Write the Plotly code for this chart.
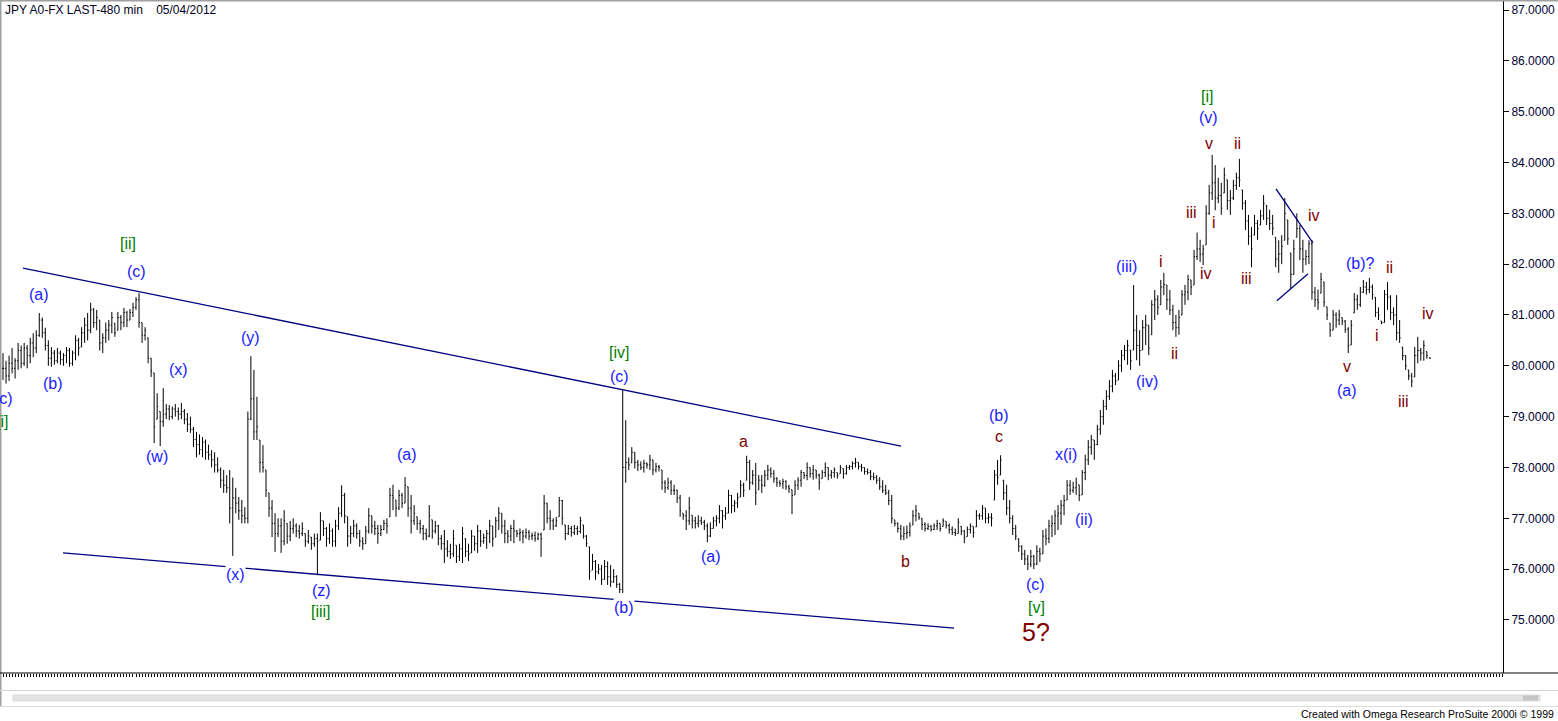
import plotly.graph_objects as go

# ---------------- data (480-minute JPY bars) ----------------
high = [
    80.25, 80.10, 80.20, 80.35, 80.15, 80.45, 80.40, 80.45, 80.41, 80.55,
    80.64, 80.70, 81.04, 80.95, 80.75, 80.50, 80.37, 80.31, 80.35, 80.30,
    80.25, 80.37, 80.35, 80.30, 80.60, 80.55, 80.76, 80.95, 81.04, 81.24,
    81.14, 81.10, 80.90, 80.64, 80.85, 80.90, 81.06, 80.84, 81.06, 81.00,
    81.14, 81.08, 81.12, 81.24, 81.35, 81.43, 80.85, 80.76, 80.55, 80.15,
    79.86, 79.46, 79.10, 79.56, 79.25, 79.23, 79.20, 79.25, 79.18, 79.27,
    79.15, 79.07, 79.00, 78.80, 78.70, 78.65, 78.60, 78.55, 78.45, 78.34,
    78.30, 78.20, 78.00, 77.95, 77.85, 77.95, 77.80, 77.60, 77.42, 77.36,
    77.22, 79.10, 80.19, 79.92, 79.39, 78.54, 78.44, 77.95, 77.50, 77.36,
    77.10, 77.00, 77.00, 77.16, 76.90, 76.95, 77.00, 76.90, 76.87, 76.92,
    76.70, 76.77, 76.63, 76.70, 76.70, 77.12, 76.95, 76.83, 76.90, 76.80,
    76.97, 77.22, 77.65, 77.50, 77.03, 76.85, 76.97, 76.90, 76.77, 76.63,
    76.85, 77.20, 77.05, 76.95, 76.87, 76.87, 76.97, 77.00, 77.60, 77.66,
    77.36, 77.56, 77.50, 77.81, 77.62, 77.46, 77.26, 77.03, 76.97, 76.87,
    76.80, 77.26, 76.97, 76.95, 76.87, 76.67, 76.77, 76.57, 76.50, 76.77,
    76.47, 76.50, 76.83, 76.60, 76.50, 76.77, 76.65, 76.87, 76.77, 76.70,
    76.77, 76.97, 76.85, 77.03, 77.22, 77.10, 76.97, 76.77, 76.87, 76.97,
    76.77, 76.80, 76.77, 76.80, 76.77, 76.72, 76.74, 76.72, 76.72, 77.46,
    77.30, 77.16, 77.00, 77.03, 77.42, 77.36, 76.87, 76.87, 76.85, 76.87,
    76.85, 77.03, 76.87, 76.67, 76.44, 76.30, 76.18, 76.10, 76.08, 76.18,
    76.15, 76.08, 76.00, 75.88, 75.73, 79.52, 78.93, 78.20, 78.40, 78.30,
    78.15, 78.12, 78.15, 78.10, 78.25, 78.15, 78.09, 78.05, 77.95, 77.75,
    77.80, 77.75, 77.66, 77.56, 77.46, 77.10, 77.16, 77.42, 77.06, 77.03,
    77.06, 77.03, 76.97, 76.90, 76.92, 77.03, 77.06, 77.26, 77.16, 77.22,
    77.56, 77.46, 77.36, 77.50, 77.75, 77.70, 78.23, 78.15, 77.95, 78.09,
    77.85, 77.85, 77.95, 78.05, 78.00, 77.95, 77.81, 77.75, 77.78, 77.75,
    77.66, 77.56, 77.75, 77.81, 77.95, 77.90, 78.10, 78.00, 78.05, 77.95,
    77.88, 77.95, 78.10, 78.00, 77.95, 78.00, 77.90, 78.05, 77.98, 78.05,
    78.05, 78.12, 78.19, 78.10, 78.07, 78.00, 77.98, 77.95, 77.90, 77.85,
    77.81, 77.75, 77.66, 77.56, 77.46, 76.97, 76.92, 76.87, 76.84, 76.86,
    76.92, 77.16, 77.26, 77.10, 77.00, 76.92, 76.90, 76.87, 76.90, 76.97,
    76.90, 77.00, 76.94, 76.90, 76.84, 76.80, 77.00, 76.84, 76.77, 76.84,
    76.90, 76.84, 77.16, 77.10, 77.26, 77.20, 77.10, 77.10, 77.95, 78.15,
    78.24, 77.75, 77.66, 77.36, 77.06, 76.87, 76.60, 76.47, 76.38, 76.28,
    76.38, 76.28, 76.47, 76.42, 76.77, 76.80, 76.97, 77.06, 77.16, 77.26,
    77.36, 77.46, 77.75, 77.75, 77.72, 77.80, 77.66, 77.95, 78.25, 78.54,
    78.64, 78.54, 78.84, 79.13, 79.33, 79.52, 79.72, 79.92, 79.86, 80.11,
    80.31, 80.41, 80.51, 80.31, 81.59, 81.00, 80.70, 80.90, 81.00, 80.80,
    81.29, 81.49, 81.39, 81.69, 81.83, 81.59, 81.49, 81.20, 81.00, 81.10,
    81.49, 81.59, 81.79, 81.69, 82.28, 82.62, 82.48, 82.38, 83.16, 83.56,
    84.15, 83.95, 83.70, 83.60, 83.90, 83.66, 83.46, 83.66, 83.80, 84.07,
    83.46, 83.26, 82.97, 82.73, 82.97, 82.87, 83.07, 83.36, 83.16, 83.07,
    82.97, 82.53, 82.47, 82.57, 83.30, 82.87, 82.22, 82.48, 83.00, 82.77,
    82.48, 82.28, 82.47, 82.47, 81.55, 81.50, 81.83, 81.65,
    81.16, 80.84, 81.10, 81.05, 81.10, 80.95, 80.90, 80.76, 80.90,
    81.43, 81.40, 81.55, 81.69, 81.65, 81.73, 81.60, 81.35, 81.15,
    80.88, 81.49, 81.65, 81.39, 81.15, 81.39, 80.90, 80.37, 80.21, 79.92,
    79.86, 80.37, 80.57, 80.35, 80.50, 80.28, 80.16,
]
low = [
    79.72, 79.65, 79.70, 79.85, 79.75, 79.92, 79.95, 80.00, 79.95, 80.05,
    80.17, 80.25, 80.57, 80.55, 80.30, 80.00, 79.98, 80.02, 80.05, 80.02,
    80.00, 80.05, 79.98, 80.00, 80.11, 80.20, 80.37, 80.45, 80.50, 80.64,
    80.75, 80.70, 80.30, 80.25, 80.45, 80.50, 80.64, 80.57, 80.70, 80.70,
    80.76, 80.76, 80.90, 80.96, 81.10, 80.75, 80.45, 80.50, 80.05, 79.78,
    78.48, 78.95, 78.42, 78.80, 78.95, 78.93, 78.95, 79.00, 78.93, 78.95,
    78.85, 78.70, 78.68, 78.40, 78.20, 78.25, 78.20, 78.15, 78.15, 78.00,
    77.90, 77.90, 77.60, 77.50, 77.50, 76.90, 76.26, 77.10, 76.97, 76.90,
    76.90, 76.90, 78.93, 78.54, 78.54, 77.90, 77.90, 77.42, 77.03, 76.63,
    76.34, 76.63, 76.32, 76.47, 76.50, 76.55, 76.70, 76.63, 76.60, 76.65,
    76.44, 76.50, 76.38, 76.44, 75.88, 76.57, 76.65, 76.44, 76.50, 76.44,
    76.44, 76.77, 77.03, 76.90, 76.44, 76.50, 76.63, 76.60, 76.44, 76.38,
    76.50, 76.70, 76.70, 76.67, 76.50, 76.65, 76.77, 76.70, 77.03, 77.16,
    77.03, 77.16, 77.20, 77.30, 77.03, 76.70, 76.87, 76.77, 76.70, 76.57,
    76.57, 76.63, 76.60, 76.70, 76.47, 76.38, 76.12, 76.24, 76.20, 76.24,
    76.12, 76.16, 76.12, 76.24, 76.16, 76.32, 76.36, 76.32, 76.44, 76.50,
    76.40, 76.51, 76.44, 76.63, 76.77, 76.70, 76.51, 76.51, 76.55, 76.51,
    76.63, 76.55, 76.51, 76.60, 76.57, 76.57, 76.54, 76.57, 76.24, 76.77,
    76.90, 76.77, 76.77, 76.83, 77.03, 76.87, 76.57, 76.67, 76.64, 76.67,
    76.67, 76.70, 76.60, 76.44, 75.79, 75.98, 75.79, 75.90, 75.69, 75.79,
    75.69, 75.65, 75.73, 75.63, 75.53, 75.53, 77.70, 77.95, 78.09, 77.98,
    77.93, 77.95, 77.90, 77.98, 77.95, 77.85, 77.90, 77.92, 77.56, 77.50,
    77.56, 77.46, 77.46, 77.30, 77.03, 76.97, 76.77, 76.87, 76.80, 76.80,
    76.82, 76.87, 76.77, 76.53, 76.63, 76.80, 76.84, 76.90, 76.80, 76.97,
    77.10, 77.10, 77.12, 77.20, 77.42, 77.42, 77.75, 77.56, 77.66, 77.26,
    77.56, 77.50, 77.62, 77.75, 77.80, 77.70, 77.62, 77.62, 77.58, 77.56,
    77.50, 77.08, 77.46, 77.56, 77.62, 77.78, 77.75, 77.80, 77.76, 77.78,
    77.56, 77.78, 77.81, 77.75, 77.78, 77.80, 77.78, 77.88, 77.78, 77.86,
    77.95, 77.96, 78.00, 77.96, 77.92, 77.86, 77.86, 77.75, 77.75, 77.68,
    77.56, 77.50, 77.46, 77.26, 76.90, 76.84, 76.72, 76.57, 76.57, 76.60,
    76.64, 76.87, 76.94, 76.97, 76.77, 76.74, 76.77, 76.74, 76.77, 76.77,
    76.74, 76.84, 76.80, 76.70, 76.67, 76.65, 76.70, 76.67, 76.51, 76.64,
    76.70, 76.62, 76.83, 76.97, 76.97, 76.90, 76.90, 76.84, 77.36, 77.66,
    77.85, 77.36, 77.06, 76.90, 76.67, 76.57, 76.34, 76.18, 76.08, 75.98,
    76.04, 76.00, 76.08, 76.14, 76.30, 76.47, 76.51, 76.63, 76.67, 76.77,
    76.87, 77.06, 77.36, 77.46, 77.50, 77.46, 77.34, 77.46, 77.75, 78.05,
    78.25, 78.15, 78.44, 78.64, 78.84, 79.13, 79.33, 79.48, 79.62, 79.72,
    79.88, 80.11, 80.02, 79.92, 80.31, 80.11, 80.00, 80.31, 80.41, 80.21,
    80.61, 80.90, 81.00, 81.20, 81.39, 81.10, 81.00, 80.70, 80.57, 80.61,
    81.00, 81.20, 81.29, 81.39, 81.59, 82.08, 82.04, 81.98, 82.38, 82.97,
    83.26, 83.06, 83.20, 82.97, 83.40, 83.07, 82.97, 83.26, 83.46, 83.52,
    83.07, 82.67, 82.38, 81.94, 82.57, 82.48, 82.77, 82.87, 82.77, 82.67,
    82.57, 81.94, 81.83, 82.00, 82.47, 82.38, 81.51, 81.79, 82.53, 82.08,
    81.83, 81.98, 82.00, 81.30, 81.16, 81.10, 81.43, 81.16,
    80.90, 80.57, 80.70, 80.75, 80.80, 80.80, 80.65, 80.25, 80.41,
    81.04, 81.10, 81.16, 81.43, 81.40, 81.43, 81.30, 80.96, 80.90,
    80.82, 80.85, 81.10, 80.90, 80.80, 80.50, 80.45, 80.11, 79.92, 79.72,
    79.58, 79.78, 80.05, 80.10, 80.10, 80.14, 80.14,
]
close = [
    79.95, 79.80, 80.05, 79.95, 80.10, 80.30, 80.05, 80.35, 80.20, 80.45,
    80.35, 80.60, 80.90, 80.65, 80.40, 80.15, 80.25, 80.10, 80.25, 80.12,
    80.20, 80.30, 80.05, 80.25, 80.50, 80.35, 80.65, 80.80, 80.70, 81.10,
    80.85, 80.95, 80.45, 80.55, 80.70, 80.80, 80.95, 80.65, 80.95, 80.85,
    81.05, 80.90, 81.05, 81.15, 81.30, 80.85, 80.60, 80.70, 80.15, 79.90,
    78.80, 79.20, 78.90, 79.05, 79.15, 79.00, 79.15, 79.10, 79.05, 79.10,
    78.95, 78.85, 78.75, 78.55, 78.45, 78.35, 78.50, 78.30, 78.25, 78.15,
    78.05, 77.95, 77.75, 77.65, 77.60, 77.20, 77.40, 77.30, 77.15, 77.05,
    77.00, 78.95, 79.35, 78.70, 78.80, 78.10, 78.00, 77.55, 77.20, 76.90,
    76.70, 76.85, 76.55, 76.95, 76.65, 76.80, 76.85, 76.75, 76.70, 76.80,
    76.55, 76.65, 76.50, 76.60, 76.55, 76.95, 76.80, 76.60, 76.75, 76.55,
    76.85, 77.10, 77.45, 77.05, 76.65, 76.70, 76.85, 76.70, 76.55, 76.50,
    76.75, 77.05, 76.85, 76.80, 76.70, 76.78, 76.90, 76.85, 77.45, 77.40,
    77.20, 77.45, 77.30, 77.65, 77.20, 76.95, 77.10, 76.90, 76.80, 76.70,
    76.65, 77.05, 76.75, 76.85, 76.60, 76.50, 76.40, 76.35, 76.30, 76.60,
    76.25, 76.40, 76.70, 76.35, 76.30, 76.65, 76.50, 76.75, 76.55, 76.62,
    76.70, 76.85, 76.60, 76.95, 77.10, 76.85, 76.70, 76.65, 76.80, 76.75,
    76.70, 76.72, 76.65, 76.72, 76.65, 76.66, 76.60, 76.68, 76.60, 77.30,
    77.00, 76.95, 76.85, 76.95, 77.35, 77.00, 76.70, 76.80, 76.72, 76.80,
    76.74, 76.95, 76.65, 76.50, 75.95, 76.15, 75.95, 76.00, 75.80, 76.05,
    75.85, 75.75, 75.85, 75.70, 75.60, 78.00, 78.10, 78.05, 78.30, 78.10,
    78.05, 78.00, 78.08, 78.05, 78.15, 77.95, 78.02, 78.00, 77.70, 77.60,
    77.70, 77.55, 77.55, 77.40, 77.15, 77.05, 76.95, 77.20, 76.95, 76.90,
    76.95, 76.92, 76.85, 76.65, 76.80, 76.95, 77.00, 77.15, 77.05, 77.10,
    77.45, 77.25, 77.30, 77.40, 77.65, 77.55, 78.10, 77.70, 77.85, 77.50,
    77.75, 77.65, 77.85, 77.95, 77.88, 77.78, 77.70, 77.68, 77.72, 77.62,
    77.58, 77.45, 77.65, 77.75, 77.90, 77.84, 78.00, 77.88, 77.95, 77.85,
    77.70, 77.90, 78.00, 77.85, 77.90, 77.95, 77.85, 78.00, 77.88, 78.00,
    78.02, 78.08, 78.10, 78.02, 78.00, 77.92, 77.90, 77.82, 77.80, 77.75,
    77.62, 77.55, 77.50, 77.35, 77.00, 76.90, 76.80, 76.65, 76.70, 76.72,
    76.85, 77.05, 77.15, 77.02, 76.88, 76.80, 76.84, 76.78, 76.85, 76.90,
    76.80, 76.95, 76.86, 76.78, 76.72, 76.70, 76.92, 76.75, 76.62, 76.78,
    76.85, 76.72, 77.05, 77.05, 77.20, 77.00, 77.02, 77.00, 77.85, 77.80,
    78.15, 77.50, 77.20, 77.00, 76.80, 76.65, 76.45, 76.30, 76.20, 76.10,
    76.25, 76.10, 76.35, 76.30, 76.65, 76.60, 76.85, 76.90, 77.05, 77.10,
    77.25, 77.35, 77.65, 77.55, 77.60, 77.70, 77.45, 77.90, 78.15, 78.40,
    78.55, 78.45, 78.75, 79.00, 79.20, 79.40, 79.60, 79.80, 79.70, 80.00,
    80.20, 80.30, 80.40, 80.10, 80.70, 80.40, 80.30, 80.75, 80.80, 80.35,
    81.20, 81.30, 81.15, 81.55, 81.60, 81.30, 81.10, 80.85, 80.75, 80.95,
    81.40, 81.45, 81.70, 81.55, 82.15, 82.30, 82.20, 82.30, 83.00, 83.40,
    83.60, 83.30, 83.35, 83.10, 83.75, 83.25, 83.30, 83.55, 83.70, 83.65,
    83.20, 82.85, 82.55, 82.30, 82.80, 82.70, 82.95, 83.20, 82.90, 82.80,
    82.70, 82.10, 82.20, 82.35, 83.00, 82.50, 81.80, 82.30, 82.70, 82.30,
    82.10, 82.15, 82.40, 81.45, 81.30, 81.25, 81.70, 81.25,
    81.00, 80.70, 81.00, 80.90, 81.00, 80.88, 80.72, 80.40, 80.80,
    81.30, 81.20, 81.45, 81.55, 81.50, 81.55, 81.40, 81.05, 81.00,
    80.85, 81.40, 81.35, 81.05, 81.00, 80.65, 80.55, 80.20, 80.00, 79.80,
    79.70, 80.20, 80.30, 80.25, 80.40, 80.20, 80.15,
]

tick_prices = [75, 76, 77, 78, 79, 80, 81, 82, 83, 84, 85, 86, 87]

# trend lines: (bar index, price) end points
channel_upper = [(6.62, 81.92), (297.1, 78.42)]
channel_lower = [(19.85, 76.32), (314.6, 74.84)]
triangle_upper = [(421.1, 83.48), (433.3, 82.42)]
triangle_lower = [(421.4, 81.28), (431.7, 81.81)]

# wave labels
label_text = ["(c)", "[i]", "(a)", "(b)", "[ii]", "(c)", "(x)", "(y)", "(w)", "(x)",
              "(z)", "[iii]", "(a)", "[iv]", "(c)", "(b)", "(a)", "a", "b", "(b)",
              "c", "(c)", "[v]", "5?", "x(i)", "(ii)", "(iii)", "i", "(iv)", "ii",
              "iii", "iv", "[i]", "(v)", "v", "i", "ii", "iii", "iv", "(b)?",
              "ii", "v", "(a)", "i", "iii", "iv"]
label_bar = [0.17, -0.33, 11.9, 16.5, 41.35, 44.0, 58.2, 82.0, 50.9, 76.75,
             105.2, 105.2, 133.6, 203.8, 203.8, 205.4, 234.2, 244.8, 298.4, 329.5,
             329.5, 341.4, 342.0, 341.7, 351.6, 357.6, 371.8, 383.1, 378.4, 387.4,
             393.3, 398.0, 398.3, 398.9, 398.9, 400.6, 408.5, 411.5, 433.7, 448.9,
             458.8, 444.6, 444.6, 454.5, 463.4, 471.4]
label_price = [79.35, 78.91, 81.41, 79.66, 82.40, 81.85, 79.92, 80.55, 78.21, 75.90,
               75.57, 75.16, 78.25, 80.27, 79.78, 75.25, 76.24, 78.52, 76.16, 79.03,
               78.60, 75.69, 75.25, 74.76, 78.25, 76.97, 81.96, 82.06, 79.70, 80.25,
               83.01, 81.81, 85.29, 84.88, 84.38, 82.81, 84.38, 81.71, 82.95, 82.02,
               81.94, 79.98, 79.52, 80.59, 79.29, 81.02]
label_kind = ["B", "G", "B", "B", "G", "B", "B", "B", "B", "B",
              "B", "G", "B", "G", "B", "B", "B", "R", "R", "B",
              "R", "B", "G", "BIG", "B", "B", "B", "R", "B", "R",
              "R", "R", "G", "B", "R", "R", "R", "R", "R", "B",
              "R", "R", "B", "R", "R", "R"]
label_on_line = {9, 15}   # labels that sit on the lower channel line

# ---------------- geometry (pixels of the 1558x721 page) ----------------
W, H = 1558, 721
PLOT_W, PLOT_H = 1503, 673
BAR_PX, BAR0_PX = 3.023, 3.0
PX_PER_YEN = 50.83
Y_TOP = 87 + 10 / PX_PER_YEN
Y_BOT = 87 - (PLOT_H - 10) / PX_PER_YEN


def px(xp):
    return xp / PLOT_W


def py(yp):
    return (PLOT_H - yp) / PLOT_H


n = len(close)
opens = []
prev = close[0]
for h_, l_, c_ in zip(high, low, close):
    opens.append(min(max(prev, l_), h_))
    prev = c_

fig = go.Figure()
fig.add_trace(go.Ohlc(
    x=list(range(n)), open=opens, high=high, low=low, close=close,
    increasing=dict(line=dict(color="black", width=1)),
    decreasing=dict(line=dict(color="black", width=1)),
    tickwidth=0.33, hoverinfo="skip", showlegend=False,
))

shapes = []
for seg in (channel_upper, channel_lower, triangle_upper, triangle_lower):
    (x0, y0), (x1, y1) = seg
    shapes.append(dict(type="line", xref="x", yref="y", x0=x0, y0=y0, x1=x1, y1=y1,
                       line=dict(color="#000080", width=1.3), layer="above"))

# window chrome: borders, bottom axis line, scrollbar
shapes += [
    dict(type="line", xref="paper", yref="paper", x0=0, x1=px(W), y0=py(0.5), y1=py(0.5),
         line=dict(color="#a0a0a0", width=2)),
    dict(type="line", xref="paper", yref="paper", x0=px(0.5), x1=px(0.5), y0=py(0), y1=py(707),
         line=dict(color="#a0a0a0", width=2)),
    dict(type="line", xref="paper", yref="paper", x0=0, x1=px(W), y0=py(673), y1=py(673),
         line=dict(color="black", width=1)),
    dict(type="line", xref="paper", yref="paper", x0=0, x1=px(W), y0=py(690.5), y1=py(690.5),
         line=dict(color="#d4d4d4", width=1)),
    dict(type="rect", xref="paper", yref="paper", x0=px(13), x1=px(1540), y0=py(701), y1=py(695),
         fillcolor="#e2e2e2", line=dict(color="#dadada", width=1)),
    dict(type="rect", xref="paper", yref="paper", x0=px(1523), x1=px(1538), y0=py(700.5), y1=py(695.5),
         fillcolor="#c4c4c4", line=dict(width=0)),
    dict(type="line", xref="paper", yref="paper", x0=0, x1=px(W), y0=py(706.5), y1=py(706.5),
         line=dict(color="#dcdcdc", width=1)),
]

colors = {"B": "#1a1aff", "G": "#008000", "R": "#800000", "BIG": "#800000"}
annotations = []
for k, (t, b, p, kind) in enumerate(zip(label_text, label_bar, label_price, label_kind)):
    a = dict(text=t, x=b, y=p, xref="x", yref="y", showarrow=False,
             xanchor="center", yanchor="middle",
             font=dict(family="Arial, Liberation Sans, sans-serif",
                       size=25 if kind == "BIG" else 16, color=colors[kind]))
    if k in label_on_line:
        a["bgcolor"] = "white"
        a["borderpad"] = 0
    annotations.append(a)

annotations.append(dict(text="JPY A0-FX LAST-480 min\u00a0\u00a0\u00a0\u00a005/04/2012",
                        xref="paper", yref="paper", x=px(3), y=py(10),
                        xanchor="left", yanchor="middle", showarrow=False,
                        font=dict(family="Arial, Liberation Sans, sans-serif", size=12, color="#000020")))
annotations.append(dict(text="Created with Omega Research ProSuite 2000i \u00a9 1999",
                        xref="paper", yref="paper", x=px(1556), y=py(714),
                        xanchor="right", yanchor="middle", showarrow=False,
                        font=dict(family="Arial, Liberation Sans, sans-serif",
                                  size=10.5, color="black")))

fig.update_layout(
    width=W, height=H,
    margin=dict(l=0, r=W - PLOT_W, t=0, b=H - PLOT_H, pad=0),
    paper_bgcolor="white", plot_bgcolor="white",
    showlegend=False,
    shapes=shapes, annotations=annotations,
    xaxis=dict(range=[-BAR0_PX / BAR_PX, (PLOT_W - BAR0_PX) / BAR_PX],
               showgrid=False, zeroline=False, showline=False,
               showticklabels=False, ticks="outside", ticklen=3, tickwidth=1,
               tickcolor="black", tickmode="linear", tick0=0, dtick=1.0,
               rangeslider=dict(visible=False), fixedrange=True),
    yaxis=dict(range=[Y_BOT, Y_TOP], side="right",
               showgrid=False, zeroline=False, showline=True, linecolor="black", linewidth=1,
               ticks="outside", ticklen=5, tickwidth=1, tickcolor="black",
               tickvals=tick_prices, ticktext=[f"{v:.4f}" for v in tick_prices],
               tickfont=dict(family="Arial, Liberation Sans, sans-serif", size=12, color="#000033"),
               automargin=False, fixedrange=True),
)

crisp_js = """
document.body.style.margin='0px';
document.body.style.overflow='hidden';
var gd = document.getElementById('{plot_id}');
function crisp(){
  gd.querySelectorAll('.cartesianlayer .plot path').forEach(function(p){
    p.style.shapeRendering = 'crispEdges';
  });
}
crisp();
if (gd.on) { gd.on('plotly_afterplot', crisp); }
setTimeout(crisp, 30);
"""

fig.write_html("out.html", config={"displayModeBar": False}, post_script=crisp_js)
